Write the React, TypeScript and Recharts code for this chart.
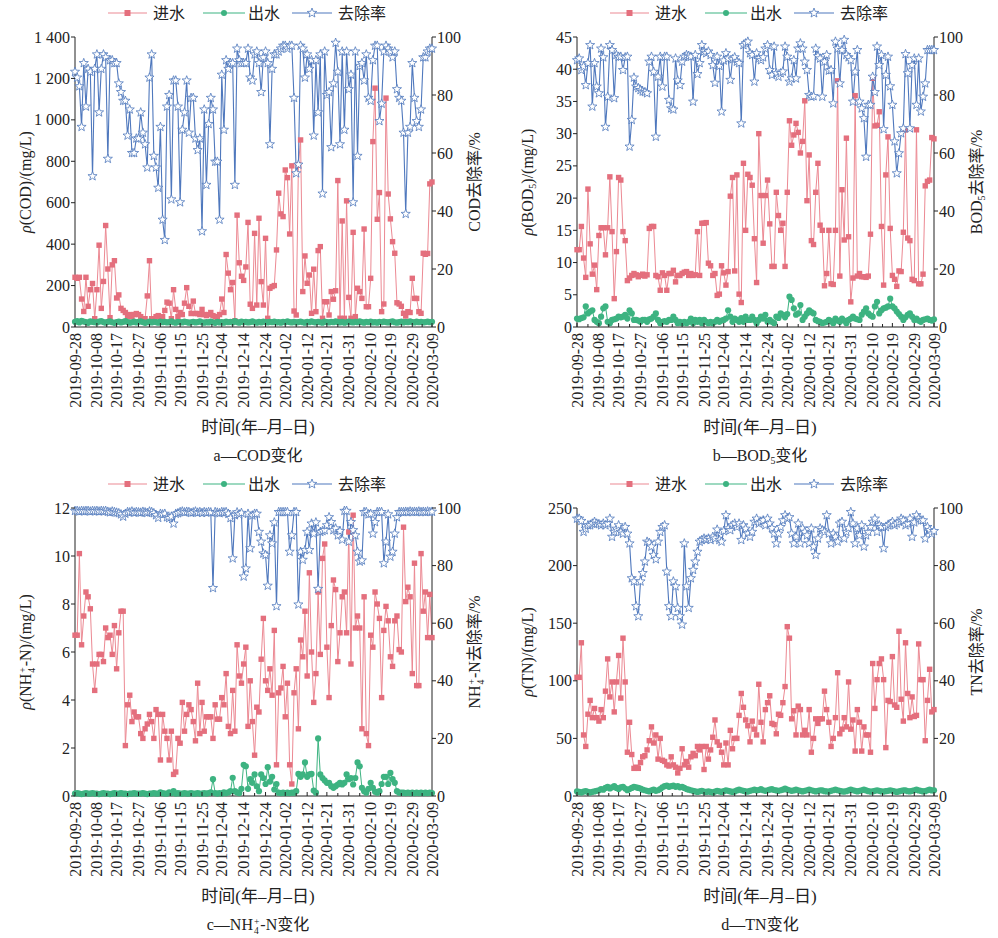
import React from "react";
import { ComposedChart, Line, XAxis, YAxis } from "recharts";

// ---------- categories / tick labels ----------
const dateLabels = [
  "2019-09-28", "2019-10-08", "2019-10-17", "2019-10-27", "2019-11-06", "2019-11-15",
  "2019-11-25", "2019-12-04", "2019-12-14", "2019-12-24", "2020-01-02", "2020-01-12",
  "2020-01-21", "2020-01-31", "2020-02-10", "2020-02-19", "2020-02-29", "2020-03-09",
];
const labelDays = [0, 10, 19, 29, 39, 48, 58, 67, 77, 87, 96, 106, 115, 125, 135, 144, 154, 163];
const seriesNames = ["进水", "出水", "去除率"];
const removalTicks = [0, 20, 40, 60, 80, 100];
const codTicks = [0, 200, 400, 600, 800, 1000, 1200, 1400];
const bodTicks = [0, 5, 10, 15, 20, 25, 30, 35, 40, 45];
const nhTicks = [0, 2, 4, 6, 8, 10, 12];
const tnTicks = [0, 50, 100, 150, 200, 250];

// ---------- COD ----------
const codIn = [
  240, 235, 240, 135, 75, 240, 100, 180, 210, 40,
  180, 395, 90, 220, 490, 280, 45, 300, 320, 140,
  155, 90, 80, 70, 50, 60, 50, 60, 65, 60,
  50, 40, 40, 150, 320, 40, 40, 50, 55, 45,
  50, 80, 120, 115, 40, 180, 85, 50, 70, 60,
  115, 190, 100, 65, 125, 65, 65, 60, 85, 60,
  55, 60, 70, 55, 50, 45, 60, 135, 70, 350,
  260, 180, 215, 30, 540, 310, 245, 225, 290, 505,
  110, 90, 452, 106, 525, 219, 106, 428, 42, 187,
  195, 200, 372, 646, 546, 533, 758, 721, 449, 778,
  77, 58, 782, 903, 171, 343, 211, 251, 66, 279,
  74, 369, 388, 42, 122, 122, 58, 171, 134, 175,
  707, 42, 512, 42, 609, 143, 42, 457, 50, 187,
  171, 138, 473, 98, 98, 235, 895, 1153, 520, 649,
  74, 111, 1105, 642, 522, 412, 356, 117, 111, 100,
  66, 53, 74, 70, 235, 138, 138, 74, 66, 356,
  351, 355, 691, 700,
];
const codOut = [
  25, 28, 22, 30, 26, 24, 20, 27, 25, 23,
  22, 26, 28, 24, 21, 25, 27, 23, 20, 24,
  26, 22, 25, 28, 24, 21, 23, 26, 22, 25,
  27, 24, 20, 23, 26, 22, 25, 24, 21, 26,
  23, 25, 22, 24, 27, 23, 21, 25, 24, 22,
  26, 24, 21, 23, 25, 22, 24, 27, 23, 21,
  24, 22, 26, 23, 20, 25, 22, 24, 21, 26,
  23, 25, 22, 28, 24, 21, 26, 23, 25, 22,
  24, 27, 23, 21, 25, 22, 26, 24, 22, 25,
  23, 26, 22, 24, 21, 25, 23, 27, 24, 22,
  25, 22, 24, 26, 23, 21, 25, 23, 27, 24,
  22, 25, 23, 21, 26, 24, 22, 25, 23, 27,
  24, 22, 25, 21, 23, 26, 24, 22, 25, 23,
  27, 24, 21, 25, 23, 26, 22, 24, 21, 25,
  23, 26, 24, 22, 25, 27, 23, 21, 24, 26,
  22, 25, 23, 27, 24, 22, 26, 23, 25, 22,
  24, 26, 23, 25,
];
const codRm = [
  88, 86, 83, 69, 91, 76, 89, 88, 52, 89,
  94, 74, 89, 94, 93, 58, 92, 92, 91, 91,
  84, 81, 78, 78, 66, 75, 60, 60, 65, 65,
  74, 67, 63, 55, 86, 94, 59, 55, 48, 69,
  37, 30, 76, 80, 44, 85, 85, 76, 43, 68,
  74, 85, 67, 79, 79, 65, 61, 65, 33, 75,
  49, 70, 79, 75, 57, 57, 37, 87, 68, 92,
  89, 91, 91, 49, 96, 92, 91, 91, 91, 96,
  86, 85, 94, 95, 91, 81, 93, 95, 91, 63,
  89, 94, 94, 95, 96, 97, 97, 96, 97, 97,
  79, 53, 56, 97, 96, 86, 94, 89, 92, 66,
  92, 74, 94, 46, 95, 80, 81, 62, 84, 98,
  88, 63, 95, 68, 95, 82, 87, 43, 95, 59,
  90, 91, 85, 94, 79, 78, 92, 97, 97, 71,
  77, 95, 97, 96, 95, 93, 95, 82, 79, 78,
  67, 39, 67, 69, 91, 79, 71, 69, 75, 93,
  93, 95, 96, 96,
];

// ---------- BOD5 ----------
const bodIn = [
  12, 12, 15.6, 10.7, 7.7, 21.4, 12.9, 8.2, 9.6, 5.8,
  14.2, 15.4, 15.4, 11.2, 15.4, 23.3, 14.8, 4.4, 11.7, 23.2,
  22.8, 14.8, 13.4, 7.2, 7.6, 8, 8.3, 8.1, 7.8, 8,
  8.2, 7.9, 8.1, 15.3, 15.6, 15.6, 8, 7.8, 5.7, 8.4,
  8, 5.7, 8.3, 8.3, 8.8, 7, 8, 8, 8.3, 8.5,
  8.6, 8, 8.3, 8, 8.1, 14.8, 8, 16.1, 16.1, 16.2,
  9.9, 9.5, 8, 8.3, 4.9, 5.1, 9.5, 8.4, 6.5, 8.6,
  20.3, 23.2, 8.7, 23.6, 5.1, 3.8, 25.4, 15, 23.7, 23.2,
  22, 13.7, 6.9, 30, 20.4, 13, 20.4, 22.8, 16, 9.4,
  9.4, 20.9, 17.3, 15, 16.1, 9.4, 20.9, 32, 28.2, 29.8,
  31.6, 30.2, 27, 28.8, 35.1, 19.6, 26.7, 13.4, 12.8, 20.9,
  25.4, 15.8, 15, 6.4, 8.3, 15, 6.7, 6.6, 15, 38.2,
  7.9, 21.3, 13.5, 29.3, 14, 3.9, 7.6, 35.9, 7.9, 8.3,
  7.8, 7.8, 7.7, 7.9, 14.4, 38.6, 31.2, 31.3, 33.4, 15.6,
  6.5, 23.6, 29.5, 15.3, 8, 7.4, 6.3, 8.7, 8.6, 14.7,
  30.6, 13.8, 13.4, 7.4, 7.2, 30.6, 6.7, 6.7, 8.2, 21.9,
  22.6, 22.8, 29.4, 29.2,
];
const bodOut = [
  1.3, 1.2, 1.4, 1.5, 3.2, 2.1, 2.4, 2.6, 1.1, 0.8,
  0.6, 1.6, 2.9, 3.2, 0.8, 0.6, 1.1, 1.2, 1.3, 1.6,
  1.5, 1.6, 1.9, 1.3, 2.6, 2.1, 1.1, 1.1, 1.0, 0.8,
  1.1, 1.1, 0.8, 1.2, 1.3, 1.6, 2.1, 1.1, 0.6, 0.8,
  0.9, 0.8, 1.1, 1.1, 1.6, 1.1, 0.6, 0.8, 0.6, 0.8,
  0.6, 0.8, 1.3, 0.6, 1.1, 0.8, 1.1, 0.6, 1.1, 0.8,
  0.6, 0.8, 0.6, 0.8, 1.1, 0.8, 1.0, 1.1, 1.3, 2.6,
  1.6, 0.8, 1.3, 1.1, 0.8, 1.4, 0.8, 1.6, 1.1, 1.1,
  1.6, 1.1, 0.6, 1.1, 1.6, 1.3, 1.9, 0.8, 1.1, 0.8,
  0.6, 1.6, 1.4, 2.1, 1.9, 1.5, 2.0, 4.7, 4.2, 2.9,
  1.9, 2.1, 3.4, 1.1, 1.6, 2.1, 2.6, 2.3, 2.1, 1.1,
  0.9, 0.8, 0.6, 0.7, 0.8, 1.1, 0.9, 0.6, 1.3, 1.0,
  0.8, 1.3, 1.0, 0.6, 1.1, 1.3, 1.6, 1.3, 1.2, 1.1,
  1.9, 2.4, 2.9, 2.1, 1.8, 1.6, 3.2, 3.9, 2.1, 2.6,
  2.9, 3.0, 3.2, 4.4, 3.2, 2.9, 2.4, 2.0, 1.6, 1.1,
  1.5, 1.9, 2.1, 1.6, 1.1, 1.3, 1.0, 0.8, 1.1, 1.2,
  1.3, 1.1, 1.0, 1.2,
];
const bodRm = [
  92, 92.6, 88.6, 89.8, 83.4, 91, 97.2, 76, 91, 82.9,
  80.6, 96, 93, 69, 79.4, 97.2, 95.5, 78.9, 93.8, 93.2,
  93.2, 88.6, 93, 93.2, 62.2, 71.4, 86, 82.9, 82.4, 81.7,
  81.2, 81, 80.6, 91.5, 93.2, 88, 65.6, 86.3, 93.2, 82.9,
  93.2, 93.2, 78.3, 75.4, 75, 92.6, 85, 83.4, 91.5, 93.2,
  93.8, 93.5, 93.2, 77.7, 93.8, 87.2, 91, 97.2, 95, 94.4,
  95, 93.8, 90.3, 84.2, 93.2, 90, 74.3, 91.9, 94.4, 92.6,
  85.2, 92.3, 93, 91.5, 91, 70.2, 97.2, 97.8, 98.4, 94.4,
  93.8, 84.6, 94.4, 92.6, 92, 93, 96, 97.2, 88.6, 86.9,
  96.7, 87.5, 86.3, 87.5, 88.1, 96.7, 93.2, 84.6, 85.7, 92,
  85.7, 96, 97.8, 96, 91.5, 88.6, 80, 79.4, 79.6, 96,
  93.4, 92.6, 79.4, 91.5, 93.8, 88.4, 88.6, 77.1, 98.4, 96,
  84, 95.5, 99, 93.8, 93, 92, 77.7, 88, 95.5, 77.7,
  75.4, 72, 58.7, 76.6, 76.6, 86.3, 81, 96.7, 90.3, 93.8,
  68.2, 86.9, 93.2, 83, 76.6, 64, 53, 59.9, 66.8, 68.5,
  94.1, 87.5, 68.5, 90.3, 92.6, 76.6, 92.6, 74.3, 79.4, 84,
  95.5, 95.5, 95.5, 95.5,
];

// ---------- NH4+-N ----------
const nhIn = [
  6.7, 6.7, 10.1, 6.3, 7.5, 8.5, 8.3, 7.8, 5.5, 4.4,
  5.5, 5.9, 5.9, 5.6, 7, 6.6, 6.7, 5.9, 7.1, 5.3,
  6.8, 7.7, 7.7, 2.1, 3.8, 4.2, 3.1, 3.5, 3.3, 3.3,
  2.6, 2.4, 2.8, 3.0, 3.4, 3.1, 2.4, 3.6, 3.4, 1.5,
  3.4, 2.7, 2.4, 1.5, 2.7, 0.9, 1.0, 2.4, 2.2, 3.9,
  2.7, 3.4, 3.8, 3.6, 3.1, 2.3, 4.7, 2.6, 3.9, 2.7,
  3.3, 3.3, 3.3, 2.4, 3.8, 3.2, 3.2, 4.1, 3.8, 5.1,
  2.9, 2.6, 4.4, 2.7, 6.3, 5.0, 4.7, 5.5, 6.2, 2.9,
  4.8, 3.1, 1.7, 3.7, 3.5, 5.7, 7.4, 4.8, 4.4, 5.3,
  4.2, 6.9, 1.3, 4.3, 4.5, 5.4, 3.3, 4.7, 1.3, 0.5,
  4.3, 5.3, 2.8, 6.5, 5.8, 7.7, 5.0, 9.3, 6.0, 3.9,
  5.1, 8.5, 5.9, 9.9, 10.5, 6.2, 4.1, 7.1, 9.0, 8.6,
  5.6, 6.8, 8.3, 8.5, 6.8, 11.0, 5.5, 11.7, 7.0, 7.5,
  7.0, 2.8, 8.3, 2.6, 2.1, 6.7, 6.2, 8.5, 8.0, 7.4,
  4.1, 6.9, 7.9, 7.3, 5.8, 5.4, 7.3, 7.5, 6.1, 6.0,
  11.2, 8.1, 8.7, 8.3, 5.1, 9.7, 4.6, 4.6, 10.1, 7.7,
  8.5, 6.6, 8.4, 6.6,
];
const nhOut = [
  0.1, 0.12, 0.1, 0.08, 0.1, 0.12, 0.1, 0.1, 0.12, 0.1,
  0.1, 0.08, 0.1, 0.12, 0.1, 0.1, 0.08, 0.1, 0.12, 0.1,
  0.1, 0.12, 0.1, 0.1, 0.08, 0.1, 0.1, 0.12, 0.1, 0.1,
  0.1, 0.12, 0.1, 0.08, 0.1, 0.1, 0.12, 0.1, 0.1, 0.15,
  0.12, 0.1, 0.1, 0.15, 0.12, 0.2, 0.1, 0.12, 0.1, 0.1,
  0.12, 0.1, 0.1, 0.12, 0.1, 0.1, 0.12, 0.1, 0.1, 0.12,
  0.1, 0.12, 0.15, 0.7, 0.12, 0.1, 0.12, 0.1, 0.15, 0.12,
  0.15, 0.2, 0.76, 0.2, 0.15, 0.12, 0.3, 1.3, 1.24, 0.3,
  0.7, 0.55, 0.9, 0.4, 0.2, 0.9, 0.75, 0.5, 1.2, 0.6,
  0.8, 0.27, 0.5, 0.14, 0.12, 0.14, 0.12, 0.14, 0.12, 0.14,
  0.14, 0.2, 0.92, 0.8, 0.9, 1.4, 0.8, 0.9, 0.92, 0.23,
  0.14, 2.4, 0.9, 0.75, 0.65, 0.55, 0.55, 0.41, 0.34, 0.41,
  0.48, 0.55, 0.48, 0.55, 0.9, 0.7, 0.75, 0.48, 0.75, 1.4,
  1.24, 0.34, 0.2, 0.14, 0.3, 0.55, 0.34, 0.18, 0.14, 0.2,
  0.5, 0.8, 0.8, 0.5, 0.96, 0.7, 0.55, 0.2, 0.14, 0.14,
  0.14, 0.12, 0.14, 0.12, 0.14, 0.12, 0.14, 0.12, 0.14, 0.12,
  0.14, 0.12, 0.14, 0.12,
];
const nhRm = [
  99, 99, 98.8, 99, 98.9, 99, 99, 98.8, 99, 98.9,
  99, 98.8, 99, 98.9, 99, 98.7, 98.5, 98.8, 98.6, 98.4,
  98.2, 97.8, 97, 98, 98.6, 98.5, 98.8, 98.4, 98.6, 98.5,
  98.4, 98.7, 98.5, 98.3, 98.8, 98.6, 98.2, 97.5, 96.6, 98,
  97.8, 98, 96.8, 96.5, 97, 94.6, 98, 98.2, 98.6, 98.8,
  98.5, 98.7, 98.6, 98.3, 98.5, 98.8, 98.4, 98.6, 98.3, 98.6,
  98.4, 98.6, 98.5, 72.2, 98.6, 98.4, 98.2, 98.6, 98.5, 98.6,
  98, 96.5, 82.5, 97.5, 98.5, 97.8, 98.3, 76.2, 79, 98,
  86, 97.4, 98, 98, 91.7, 88.3, 84.2, 83.7, 73, 90.5,
  87.7, 95, 65.9, 98.6, 98.6, 98.6, 98.6, 98.6, 84.8, 90.5,
  98.6, 98.6, 66.5, 84.8, 82, 85.4, 91.7, 85.4, 94.6, 91.1,
  95, 71.9, 91.7, 92, 92.3, 94, 96.8, 95.1, 92.3, 92.9,
  90.5, 92, 89, 99, 99, 88.3, 95.1, 92.3, 90.5, 84.8,
  81.4, 81.8, 98.6, 98.6, 97.8, 98, 91.1, 95.1, 98.6, 98.6,
  98.6, 80.8, 88.3, 97.8, 83.1, 84.8, 91.1, 96.8, 98.6, 98.6,
  98.6, 98.7, 98.6, 98.8, 98.6, 98.7, 98.6, 98.8, 98.6, 98.7,
  98.6, 98.8, 98.6, 98.7,
];

// ---------- TN ----------
const tnIn = [
  103, 103, 133, 53, 43, 71, 83, 68, 76, 68,
  65, 75, 68, 91, 119, 86, 99, 73, 99, 122,
  85, 137, 99, 38, 64, 36, 24, 25, 24, 29,
  34, 35, 40, 48, 60, 46, 53, 32, 50, 31,
  30, 27, 26, 34, 27, 25, 20, 24, 41, 27,
  30, 25, 34, 37, 35, 43, 40, 43, 23, 43,
  32, 40, 51, 66, 47, 44, 38, 27, 46, 27,
  57, 41, 50, 50, 70, 89, 77, 66, 61, 47,
  65, 58, 53, 97, 64, 47, 75, 81, 87, 63,
  62, 54, 71, 70, 81, 95, 147, 137, 67, 74,
  53, 78, 75, 53, 57, 53, 75, 38, 50, 67,
  63, 67, 67, 91, 75, 64, 43, 50, 68, 107,
  54, 58, 68, 60, 99, 58, 66, 39, 75, 64,
  39, 60, 53, 53, 38, 115, 76, 101, 115, 119,
  101, 42, 83, 82, 121, 79, 77, 143, 84, 65,
  133, 89, 68, 86, 69, 70, 132, 101, 101, 48,
  83, 110, 73, 75,
];
const tnOut = [
  4, 3.5, 3, 3.8, 4.2, 3.5, 3, 3.6, 4, 4.5,
  5, 6, 5.5, 7, 8, 6.5, 7.5, 8.5, 7, 6,
  7.5, 8, 6.5, 5, 6, 7, 8, 7.5, 7, 6.5,
  5.5, 5, 4.5, 4, 4.8, 5.5, 4.5, 5, 6, 7.5,
  8.5, 9, 8, 8.5, 9, 8, 8.5, 7.5, 8, 7,
  6, 5.5, 5, 4.5, 4, 3.5, 4, 4.5, 3.8, 3.5,
  4, 3.5, 3, 3.8, 4.5, 4, 3.5, 4.2, 5, 4.5,
  4, 3.5, 4, 4.8, 5.5, 5, 4.5, 4, 3.8, 4.5,
  5, 5.5, 4.8, 5.2, 6, 5, 4.5, 5, 5.5, 6,
  5.2, 4.8, 4.5, 5, 5.5, 6.5, 5.5, 5, 4.5, 4.8,
  5.5, 5, 4.5, 4, 4.5, 5, 5.5, 5, 4.5, 4,
  4.5, 5, 4.8, 4.2, 4, 3.8, 4.5, 5, 5.5, 5,
  4.5, 4, 3.8, 4.2, 4.8, 5.5, 5, 4.5, 4, 4.5,
  5, 5.5, 4.8, 4.2, 3.8, 4, 4.5, 5, 4.5, 4,
  3.8, 4.2, 4.5, 5, 4.5, 4, 3.5, 4, 4.5, 5,
  4.8, 4.2, 4, 4.5, 5, 5.5, 4.8, 4.5, 4, 4.2,
  5, 5.5, 4.8, 5,
];
const tnRm = [
  96.3, 96.3, 95.5, 91.7, 92.8, 94, 94, 94.6, 95.2, 94.6,
  94.4, 94, 94.6, 94, 94.6, 96.3, 90, 91.7, 92.8, 94,
  91.7, 91.1, 93.4, 91.1, 87.7, 75.6, 74.5, 65.9, 62.4, 74.5,
  77.4, 81.4, 88.3, 87.9, 86.6, 83.7, 82.2, 88.3, 91.7, 93.4,
  94, 77.9, 65.9, 62.4, 74.5, 72.8, 65.3, 62.4, 59.5, 87.7,
  72.8, 65.3, 75.6, 78.5, 81.4, 84.8, 88.3, 88.9, 89.4, 89,
  89.4, 88.9, 90, 89.4, 92.5, 88.9, 88.3, 92, 97.5, 92.9,
  92.3, 94, 94.6, 93.4, 94.6, 88.9, 94, 92.8, 91.1, 90,
  91.7, 95.2, 96.3, 94.6, 95.2, 95.7, 94, 96.3, 94.6, 93,
  91.1, 87.7, 91.1, 93.4, 95.7, 97.5, 96.3, 96.8, 91.1, 87.7,
  90, 94.6, 87.7, 92.9, 91.7, 90.5, 87.7, 92.9, 86.6, 83.7,
  89.4, 92.9, 92.3, 91.7, 97.5, 91.1, 87.7, 91.1, 90, 88.3,
  94.6, 95.2, 89.4, 91.7, 93, 98.6, 94.6, 87.7, 92.9, 90.5,
  94, 86.6, 90.5, 91.7, 93.4, 95.2, 96.3, 91.7, 94, 93.4,
  86, 93.4, 94, 94.5, 95.2, 94, 94.6, 95.2, 96.3, 95.7,
  94, 94.6, 96.3, 90, 95, 97.5, 96.3, 95.7, 95.7, 89.4,
  93.4, 92.3, 91.1, 92,
];

// ---------- styling ----------
const SERIF = '"Liberation Serif", "Noto Sans CJK SC", serif';
const CJK = '"Noto Sans CJK SC", "Liberation Serif", sans-serif';
const C_IN_LINE = "#EC8993";
const C_IN_MARK = "#E46F7D";
const C_OUT = "#3DB381";
const C_RM_LINE = "#4F78BD";
const C_RM_MARK = "#4F78BD";
const AX = "#222";

const W = 500;
const PL = 75;
const PR = 432;
const PT = 37;
const RIGHT_W = 60;
const XH = 100;

function starPath(cx: number, cy: number, R: number, r: number) {
  let s = "";
  for (let k = 0; k < 10; k++) {
    const rad = k % 2 === 0 ? R : r;
    const a = -Math.PI / 2 + (k * Math.PI) / 5;
    s += (k === 0 ? "M" : "L") + (cx + rad * Math.cos(a)).toFixed(2) + "," + (cy + rad * Math.sin(a)).toFixed(2);
  }
  return s + "Z";
}

const squareDot = (p: any) =>
  p.cy == null ? <g key={`sq${p.index}`} /> : (
    <rect key={`sq${p.index}`} x={p.cx - 2.7} y={p.cy - 2.7} width={5.4} height={5.4} fill={C_IN_MARK} />
  );
const circleDot = (p: any) =>
  p.cy == null ? <g key={`ci${p.index}`} /> : <circle key={`ci${p.index}`} cx={p.cx} cy={p.cy} r={3.1} fill={C_OUT} />;
const starDot = (p: any) =>
  p.cy == null ? <g key={`st${p.index}`} /> : (
    <path key={`st${p.index}`} d={starPath(p.cx, p.cy, 4.8, 2.0)} fill="#fff" stroke={C_RM_MARK} strokeWidth={0.8} />
  );

const fmtSpace = (v: number) => {
  const s = String(v);
  return s.length > 3 ? s.slice(0, s.length - 3) + " " + s.slice(s.length - 3) : s;
};

const minorTicks: number[] = [];
labelDays.forEach((d, i) => {
  minorTicks.push(d);
  if (i < labelDays.length - 1) minorTicks.push((d + labelDays[i + 1]) / 2);
});

type PanelProps = {
  x: number;
  y: number;
  ph: number;
  inflow: number[];
  effluent: number[];
  removal: number[];
  leftTicks: number[];
  leftTitle: React.ReactNode;
  rightTitle: React.ReactNode;
  caption: React.ReactNode;
};

function Panel({ x, y, ph, inflow, effluent, removal, leftTicks, leftTitle, rightTitle, caption }: PanelProps) {
  const data = inflow.map((v, i) => ({ d: i, a: v, b: effluent[i], c: removal[i] }));
  const bottom = PT + ph;
  const H = bottom + 150;
  const leftMax = leftTicks[leftTicks.length - 1];

  const xTick = (props: any) => {
    const px = props.x;
    const v = props.payload.value;
    const idx = labelDays.indexOf(v);
    return (
      <g>
        <line x1={px} x2={px} y1={bottom} y2={bottom - (idx >= 0 ? 4 : 3)} stroke={AX} strokeWidth={1} />
        {idx >= 0 && (
          <text
            transform={`translate(${px + 5.5},${bottom + 6}) rotate(-90)`}
            textAnchor="end"
            fontSize={16}
            fontFamily={SERIF}
            fill={AX}
          >
            {dateLabels[idx]}
          </text>
        )}
      </g>
    );
  };
  const yTickL = (props: any) => (
    <g>
      <line x1={PL - 4} x2={PL} y1={props.y} y2={props.y} stroke={AX} />
      <text x={PL - 5} y={props.y} dy="0.35em" textAnchor="end" fontSize={16} fontFamily={SERIF} fill={AX}>
        {fmtSpace(props.payload.value)}
      </text>
    </g>
  );
  const yTickR = (props: any) => (
    <g>
      <line x1={PR} x2={PR + 4} y1={props.y} y2={props.y} stroke={AX} />
      <text x={PR + 5} y={props.y} dy="0.35em" textAnchor="start" fontSize={16} fontFamily={SERIF} fill={AX}>
        {props.payload.value}
      </text>
    </g>
  );

  const ly = PT - 24;
  const titleStyle: React.CSSProperties = {
    position: "absolute",
    transform: "translate(-50%, -50%) rotate(-90deg)",
    whiteSpace: "nowrap",
    fontSize: 16,
    fontFamily: SERIF,
    color: AX,
    lineHeight: "20px",
  };
  const centerStyle: React.CSSProperties = {
    position: "absolute",
    left: 258,
    transform: "translate(-50%, -50%)",
    whiteSpace: "nowrap",
    fontFamily: SERIF,
    color: AX,
    lineHeight: "20px",
  };

  return (
    <div style={{ position: "absolute", left: x, top: y, width: W, height: H }}>
      <ComposedChart
        width={W}
        height={H}
        data={data}
        margin={{ top: PT, right: W - PR - RIGHT_W, bottom: H - bottom - XH, left: 0 }}
      >
        <XAxis
          dataKey="d"
          type="number"
          domain={[0, 163]}
          ticks={minorTicks}
          interval={0}
          tick={xTick}
          tickLine={false}
          axisLine={{ stroke: AX, strokeWidth: 1 }}
          height={XH}
        />
        <YAxis
          yAxisId="l"
          domain={[0, leftMax]}
          ticks={leftTicks}
          interval={0}
          tick={yTickL}
          tickLine={false}
          axisLine={{ stroke: AX, strokeWidth: 1 }}
          width={PL}
        />
        <YAxis
          yAxisId="r"
          orientation="right"
          domain={[0, 100]}
          ticks={removalTicks}
          interval={0}
          tick={yTickR}
          tickLine={false}
          axisLine={{ stroke: AX, strokeWidth: 1 }}
          width={RIGHT_W}
        />
        <Line
          yAxisId="l"
          dataKey="a"
          type="linear"
          stroke={C_IN_LINE}
          strokeWidth={1}
          dot={squareDot}
          activeDot={false}
          isAnimationActive={false}
        />
        <Line
          yAxisId="l"
          dataKey="b"
          type="linear"
          stroke={C_OUT}
          strokeWidth={1}
          dot={circleDot}
          activeDot={false}
          isAnimationActive={false}
        />
        <Line
          yAxisId="r"
          dataKey="c"
          type="linear"
          stroke={C_RM_LINE}
          strokeWidth={1.1}
          dot={starDot}
          activeDot={false}
          isAnimationActive={false}
        />
      </ComposedChart>

      {/* legend */}
      <svg style={{ position: "absolute", left: 0, top: 0 }} width={W} height={30}>
        <line x1={108} x2={147} y1={ly} y2={ly} stroke={C_IN_LINE} strokeWidth={1.2} />
        <rect x={124.5} y={ly - 3} width={6} height={6} fill={C_IN_MARK} />
        <text x={153} y={ly} dy="0.36em" fontSize={16} fontFamily={CJK} fill={AX}>
          {seriesNames[0]}
        </text>
        <line x1={203} x2={245} y1={ly} y2={ly} stroke={C_OUT} strokeWidth={1.2} />
        <circle cx={224} cy={ly} r={3} fill={C_OUT} />
        <text x={248} y={ly} dy="0.36em" fontSize={16} fontFamily={CJK} fill={AX}>
          {seriesNames[1]}
        </text>
        <line x1={292} x2={332} y1={ly} y2={ly} stroke={C_RM_LINE} strokeWidth={1.2} />
        <path d={starPath(312, ly, 5, 2.1)} fill="#fff" stroke={C_RM_MARK} strokeWidth={0.8} />
        <text x={338} y={ly} dy="0.36em" fontSize={16} fontFamily={CJK} fill={AX}>
          {seriesNames[2]}
        </text>
      </svg>

      <div style={{ ...titleStyle, left: 26, top: PT + ph / 2 }}>{leftTitle}</div>
      <div style={{ ...titleStyle, left: 475, top: PT + ph / 2 }}>{rightTitle}</div>
      <div style={{ ...centerStyle, top: bottom + 101, fontSize: 17 }}>时间(年–月–日)</div>
      <div style={{ ...centerStyle, top: bottom + 129, fontSize: 16 }}>{caption}</div>
    </div>
  );
}

const sub: React.CSSProperties = { fontSize: "0.62em", verticalAlign: "-0.3em", lineHeight: 0 };
const NH4 = () => (
  <span>
    NH
    <span
      style={{
        display: "inline-block",
        fontSize: "0.6em",
        lineHeight: "1em",
        verticalAlign: "-0.45em",
        textAlign: "left",
        margin: "0 1px",
      }}
    >
      +
      <br />4
    </span>
    -N
  </span>
);

export default function App() {
  return (
    <div
      style={{
        position: "absolute",
        left: 0,
        top: 0,
        width: 998,
        height: 938,
        background: "#fff",
        overflow: "hidden",
      }}
    >
      <Panel
        x={0}
        y={0}
        ph={290}
        inflow={codIn}
        effluent={codOut}
        removal={codRm}
        leftTicks={codTicks}
        leftTitle={
          <span>
            <i>ρ</i>(COD)/(mg/L)
          </span>
        }
        rightTitle={<span>COD去除率/%</span>}
        caption={<span>a—COD变化</span>}
      />
      <Panel
        x={502}
        y={0}
        ph={290}
        inflow={bodIn}
        effluent={bodOut}
        removal={bodRm}
        leftTicks={bodTicks}
        leftTitle={
          <span>
            <i>ρ</i>(BOD<span style={sub}>5</span>)/(mg/L)
          </span>
        }
        rightTitle={
          <span>
            BOD<span style={sub}>5</span>去除率/%
          </span>
        }
        caption={
          <span>
            b—BOD<span style={sub}>5</span>变化
          </span>
        }
      />
      <Panel
        x={0}
        y={471}
        ph={288}
        inflow={nhIn}
        effluent={nhOut}
        removal={nhRm}
        leftTicks={nhTicks}
        leftTitle={
          <span>
            <i>ρ</i>(<NH4 />)/(mg/L)
          </span>
        }
        rightTitle={
          <span>
            <NH4 />
            去除率/%
          </span>
        }
        caption={
          <span>
            c—<NH4 />
            变化
          </span>
        }
      />
      <Panel
        x={502}
        y={471}
        ph={288}
        inflow={tnIn}
        effluent={tnOut}
        removal={tnRm}
        leftTicks={tnTicks}
        leftTitle={
          <span>
            <i>ρ</i>(TN)/(mg/L)
          </span>
        }
        rightTitle={<span>TN去除率/%</span>}
        caption={<span>d—TN变化</span>}
      />
    </div>
  );
}
